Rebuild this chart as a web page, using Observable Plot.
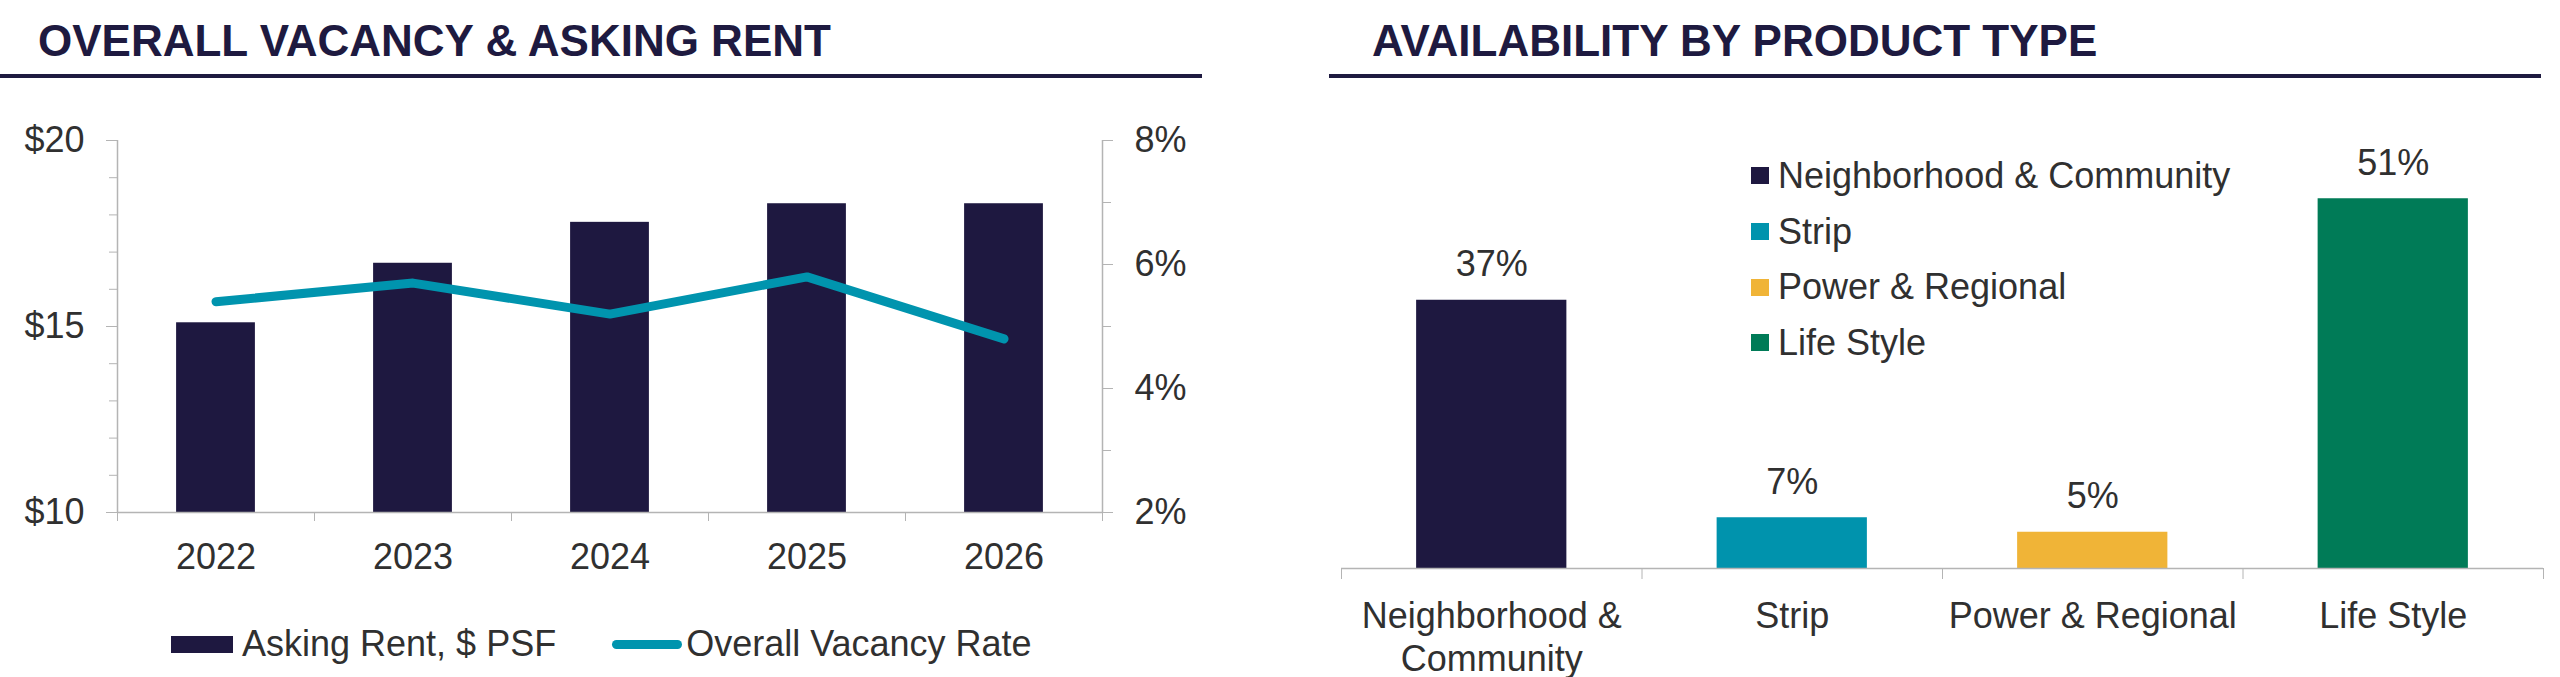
<!DOCTYPE html>
<html>
<head>
<meta charset="utf-8">
<script src="https://cdn.jsdelivr.net/npm/d3@7"></script>
<script src="https://cdn.jsdelivr.net/npm/@observablehq/plot@0.6"></script>
<style>
  html, body { margin: 0; padding: 0; background: #ffffff; }
  body { width: 2560px; height: 677px; overflow: hidden; position: relative;
         font-family: "Liberation Sans", Arial, sans-serif; color: #303030; }
  .title { position: absolute; top: 19px; font-weight: bold; font-size: 44px; line-height: 44px;
           color: #1e1a40; white-space: nowrap; }
  .rule { position: absolute; top: 74px; height: 4px; background: #1e1a40; }
  #left { position: absolute; left: 0; top: 100px; }
  #right { position: absolute; left: 1280px; top: 100px; }
  #legendLeft { position: absolute; top: 626px; left: 171px; display: flex; align-items: center;
                font-size: 36px; line-height: 36px; white-space: nowrap; }
  #legendLeft .item { display: flex; align-items: center; }
  #legendRight { position: absolute; top: 148px; left: 1751px; font-size: 36px; white-space: nowrap; }
  #legendRight .row { display: flex; align-items: center; height: 55.7px; line-height: 55.7px; }
  #legendRight .sq { width: 18px; height: 17px; margin-right: 9px; }
</style>
</head>
<body>
<div class="title" style="left:38px">OVERALL VACANCY &amp; ASKING RENT</div>
<div class="rule" style="left:0;width:1202px"></div>
<div class="title" style="left:1372px">AVAILABILITY BY PRODUCT TYPE</div>
<div class="rule" style="left:1329px;width:1212px"></div>
<div id="left"></div>
<div id="legendLeft"></div>
<div id="right"></div>
<div id="legendRight"></div>
<script>
// ---- Data: Overall vacancy & asking rent ----
const years = ["2022", "2023", "2024", "2025", "2026"];
const askingRent = [15.1, 16.7, 17.8, 18.3, 18.3];
const vacancyRate = [5.4, 5.7, 5.2, 5.8, 4.8];
const rentDomain = [10, 20];
const rentTicks = [10, 15, 20];
const rentTickLabels = ["$10", "$15", "$20"];
const vacancyDomain = [2, 8];
const vacancyTicks = [2, 4, 6, 8];
const vacancyTickLabels = ["2%", "4%", "6%", "8%"];
const leftSeriesNames = ["Asking Rent, $ PSF", "Overall Vacancy Rate"];

// ---- Data: Availability by product type ----
const productTypes = ["Neighborhood & Community", "Strip", "Power & Regional", "Life Style"];
const availability = [37, 7, 5, 51];
const availabilityLabels = ["37%", "7%", "5%", "51%"];

// ---- Styles ----
const navy = "#1e1840";
const teal = "#0094ae";
const productColors = ["#1e1840", "#0093ad", "#f0b437", "#007b57"];
const axisGray = "#b4b4b4";
const textColor = "#303030";
const font = "'Liberation Sans', Arial, sans-serif";

// map vacancy (right axis) into rent units (left axis)
const toRent = v => rentDomain[0] + (v - vacancyDomain[0]) * (rentDomain[1] - rentDomain[0]) / (vacancyDomain[1] - vacancyDomain[0]);

const leftTable = years.map((year, i) => ({ i, year, rent: askingRent[i], vacancy: vacancyRate[i] }));
const nL = years.length;

const left = Plot.plot({
  width: 1202, height: 490,
  marginLeft: 117, marginRight: 100, marginTop: 40, marginBottom: 78,
  x: { type: "linear", domain: [-0.5, nL - 0.5], axis: null },
  y: { domain: rentDomain, axis: null },
  style: { fontFamily: font, fontSize: "36px", color: textColor, background: "transparent", overflow: "visible" },
  marks: [
    Plot.rectY(leftTable, { x1: d => d.i - 0.2, x2: d => d.i + 0.2, y1: rentDomain[0], y2: "rent", fill: navy }),
    Plot.ruleX([-0.5, nL - 0.5], { stroke: axisGray, strokeWidth: 1.5 }),
    Plot.ruleY([rentDomain[0]], { stroke: axisGray, strokeWidth: 1.5 }),
    Plot.axisY({ anchor: "left", ticks: d3.range(rentDomain[0], rentDomain[1] + 0.001, 1), tickSize: 8,
                 tickFormat: () => "", stroke: axisGray, strokeOpacity: 1, label: null }),
    Plot.axisY({ anchor: "left", ticks: rentTicks, tickSize: 11, tickPadding: 22,
                 tickFormat: d => rentTickLabels[rentTicks.indexOf(d)], stroke: axisGray, strokeOpacity: 1,
                 fill: textColor, label: null }),
    Plot.axisY({ anchor: "right", ticks: d3.range(vacancyDomain[0], vacancyDomain[1] + 0.001, 1).map(toRent), tickSize: 8,
                 tickFormat: () => "", stroke: axisGray, strokeOpacity: 1, label: null }),
    Plot.axisY({ anchor: "right", ticks: vacancyTicks.map(toRent), tickSize: 10, tickPadding: 22,
                 tickFormat: r => vacancyTickLabels[vacancyTicks.findIndex(v => Math.abs(toRent(v) - r) < 1e-9)],
                 stroke: axisGray, strokeOpacity: 1, fill: textColor, label: null }),
    Plot.axisX({ ticks: d3.range(-0.5, nL, 1), tickSize: 9, tickFormat: () => "", stroke: axisGray, strokeOpacity: 1, label: null }),
    Plot.axisX({ ticks: d3.range(nL), tickSize: 0, tickPadding: 31, tickFormat: i => years[i], fill: textColor, label: null }),
    Plot.line(leftTable, { x: "i", y: d => toRent(d.vacancy), stroke: teal, strokeWidth: 9,
                           strokeLinecap: "round", strokeLinejoin: "round" })
  ]
});
document.getElementById("left").appendChild(left);

// left legend
const lg = document.getElementById("legendLeft");
lg.innerHTML =
  `<div class="item"><div style="width:62px;height:17px;background:${navy};margin-right:9px"></div><span>${leftSeriesNames[0]}</span></div>` +
  `<div class="item" style="margin-left:56px"><div style="width:70px;height:9px;border-radius:4.5px;background:${teal};margin-right:4px"></div><span>${leftSeriesNames[1]}</span></div>`;

// ---- Right chart ----
const rightTable = productTypes.map((name, i) => ({ i, name, value: availability[i], label: availabilityLabels[i] }));
const nR = productTypes.length;

const right = Plot.plot({
  width: 1280, height: 577,
  marginLeft: 61, marginRight: 17, marginTop: 33, marginBottom: 109,
  x: { type: "linear", domain: [-0.5, nR - 0.5], axis: null },
  y: { domain: [0, 60], axis: null },
  color: { domain: productTypes, range: productColors },
  style: { fontFamily: font, fontSize: "36px", color: textColor, background: "transparent", overflow: "visible" },
  marks: [
    Plot.rectY(rightTable, { x1: d => d.i - 0.25, x2: d => d.i + 0.25, y1: 0, y2: "value", fill: "name" }),
    Plot.ruleY([0], { stroke: axisGray, strokeWidth: 1.5 }),
    Plot.axisX({ ticks: d3.range(-0.5, nR, 1), tickSize: 11, tickFormat: () => "", stroke: axisGray, strokeOpacity: 1, label: null }),
    Plot.text(rightTable, { x: "i", text: "name", frameAnchor: "bottom", dy: 30, lineAnchor: "top",
                            lineWidth: 9.5, lineHeight: 1.17, fill: textColor }),
    Plot.text(rightTable, { x: "i", y: "value", text: "label", dy: -24, lineAnchor: "bottom", fill: textColor })
  ]
});
document.getElementById("right").appendChild(right);

// right legend
const lr = document.getElementById("legendRight");
lr.innerHTML = productTypes.map((name, i) =>
  `<div class="row"><div class="sq" style="background:${productColors[i]}"></div><span>${name}</span></div>`).join("");
</script>
</body>
</html>
